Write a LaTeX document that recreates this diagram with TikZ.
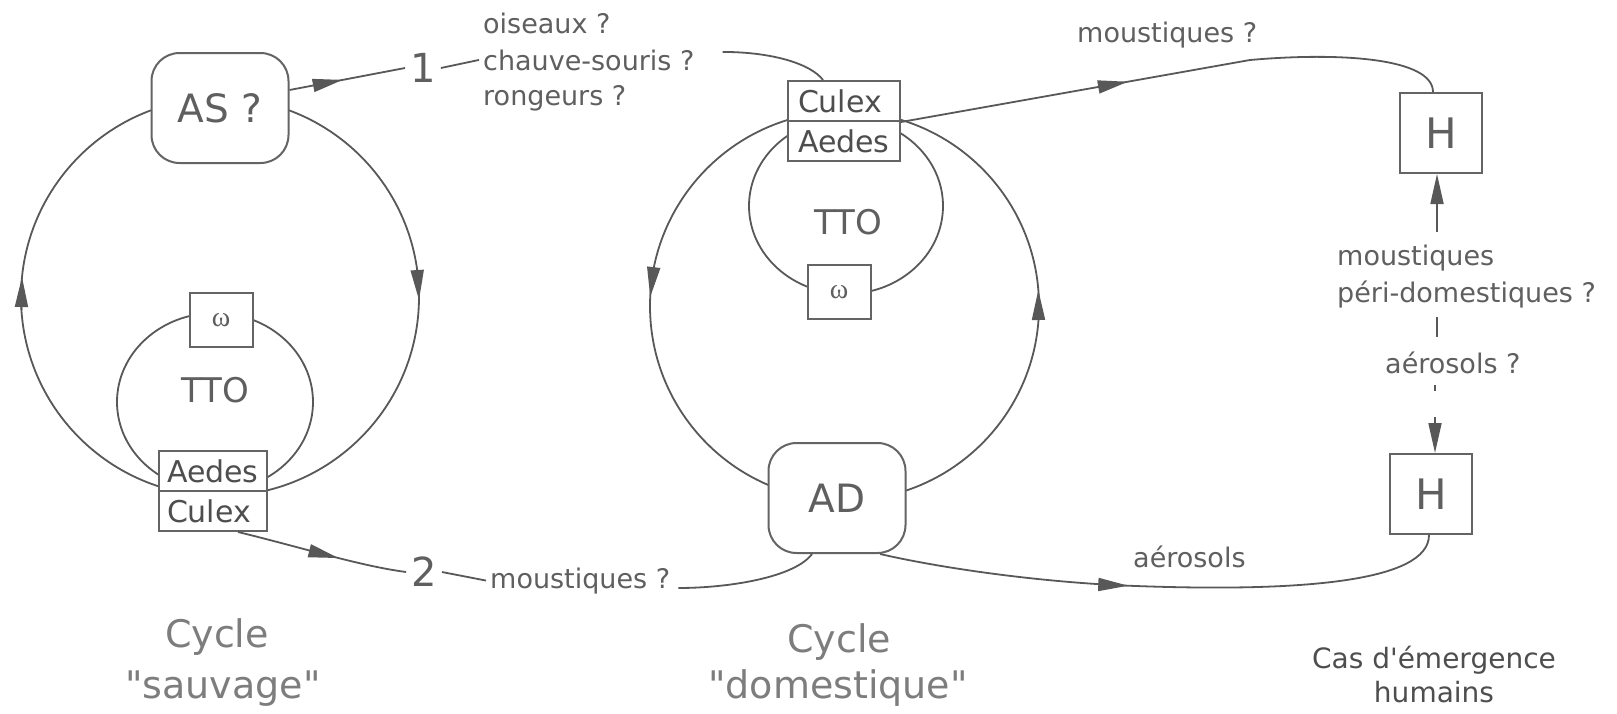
\documentclass[tikz,border=0pt]{standalone}
\usepackage{fontspec}
\newfontfamily\dv{DejaVu Sans}
\newfontfamily\lserif{Liberation Serif}
\usetikzlibrary{arrows.meta,decorations.markings}
\definecolor{linec}{RGB}{88,88,88}
\definecolor{txtc}{RGB}{95,95,95}
\definecolor{boxc}{RGB}{100,100,100}
\definecolor{cyc}{RGB}{125,125,125}
\definecolor{darkt}{RGB}{78,78,78}
\begin{document}
\begin{tikzpicture}[x=1pt,y=-1pt,
  every node/.style={font=\dv, text=txtc},
  conn/.style={color=linec, line width=1.8pt},
  tip/.style={-{Triangle[length=30pt,width=13pt]}},
  midarrow/.style={postaction={decorate,decoration={markings,
      mark=at position #1 with {\arrow{Triangle[length=30pt,width=13pt]}}}}},
  box/.style={draw=boxc, line width=2pt, fill=white, inner sep=0pt},
  rbox/.style={box, rounded corners=28pt, minimum width=137pt, minimum height=110pt,
      font=\dv\fontsize{39}{39}\selectfont},
  hbox/.style={box, minimum width=82pt, minimum height=80pt, font=\dv\fontsize{42}{42}\selectfont},
  wbox/.style={box, minimum width=63pt, minimum height=54pt, font=\lserif\fontsize{28}{28}\selectfont},
  gbox/.style={box, minimum height=40pt, text width=92pt, inner xsep=8pt, align=left,
      font=\dv\fontsize{30}{30}\selectfont, text=darkt},
  tto/.style={font=\dv\fontsize{34}{34}\selectfont},
  lab/.style={font=\dv\fontsize{27}{27}\selectfont, inner sep=4pt},
  dig/.style={font=\dv\fontsize{40}{40}\selectfont, inner sep=5pt},
  cyclab/.style={font=\dv\fontsize{38}{38}\selectfont, text=cyc, inner sep=0pt},
  caslab/.style={font=\dv\fontsize{28}{28}\selectfont, text=darkt, inner sep=0pt}
]
\fill[white] (0,0) rectangle (1617,713);
\useasboundingbox (0,0) rectangle (1617,713);

% circles (drawn first, boxes overlay them)
\coordinate (cL) at (220,297);
\coordinate (eL) at (215,402);
\coordinate (cM) at (844.5,306);
\coordinate (eM) at (846,206);
\draw[conn] (cL) circle [radius=199];
\draw[conn] (eL) ellipse [x radius=98, y radius=89];
\draw[conn] (cM) circle [radius=194.5];
\draw[conn] (eM) ellipse [x radius=97, y radius=88];

% arrowheads on the cycles
\draw[conn, tip] (21.4,310) -- (22,277);
\draw[conn, tip] (417.2,270) -- (419,300);
\draw[conn, tip] (653.4,270) -- (650.2,297);
\draw[conn, tip] (1038.5,320) -- (1038.3,290);

% left cycle
\node[rbox] (AS) at (220,108) {AS ?};
\node[wbox] (omL) at (221,320) {ω};
\node[tto] (ttoL) at (215,390) {TTO};
\node[gbox] (ACa) at (213,471) {Aedes};
\node[gbox] (ACc) at (213,511) {Culex};

% middle cycle
\node[gbox, inner xsep=10pt] (CAc) at (844,101) {Culex};
\node[gbox, inner xsep=10pt] (CAa) at (844,141) {Aedes};
\node[wbox] (omM) at (839,292) {ω};
\node[tto] (ttoM) at (848.5,222) {TTO};
\node[rbox] (AD) at (837,498) {AD};

% human cases
\node[hbox] (Ht) at (1441,133) {H};
\node[hbox] (Hb) at (1431,494) {H};

% labels
\node[dig] (one) at (423,68) {1};
\node[dig] (two) at (424,572) {2};
\node[lab, anchor=base west] (ois) at (479,33) {oiseaux ?};
\node[lab, anchor=base west] (chs) at (479,70) {chauve-souris ?};
\node[lab, anchor=base west] (ron) at (479,105) {rongeurs ?};
\node[lab, anchor=base west] (mq2) at (486,588) {moustiques ?};
\node[lab, anchor=base west] (mq1) at (1073,42) {moustiques ?};
\node[lab, anchor=base west] (mqp) at (1333,265) {moustiques};
\node[lab, anchor=base west] (peri) at (1333,302) {péri-domestiques ?};
\node[lab, anchor=base west] (aerq) at (1381,373) {aérosols ?};
\node[lab, anchor=base west] (aer) at (1129,567) {aérosols};

\node[cyclab, anchor=base] (cyL1) at (217,647) {Cycle};
\node[cyclab, anchor=base] (cyL2) at (223,698) {"sauvage"};
\node[cyclab, anchor=base] (cyM1) at (839,652) {Cycle};
\node[cyclab, anchor=base] (cyM2) at (838,698) {"domestique"};
\node[caslab, anchor=base] (cas1) at (1434,668) {Cas d'émergence};
\node[caslab, anchor=base] (cas2) at (1434,702) {humains};

% connectors: wild cycle -> 1 -> domestic vectors
\draw[conn, midarrow=0.46] ([yshift=18pt]AS.east) -- (one.west);
\draw[conn] (one.east) -- (chs.west);
\draw[conn] ([xshift=24pt,yshift=8pt]chs.east) .. controls +(50,0) and +(-12,-16) .. ([xshift=-21pt]CAc.north);

% wild vectors -> 2 -> AD
\draw[conn, midarrow=0.6] ([xshift=25pt]ACc.south) .. controls (300,547) and (360,566) .. (two.west);
\draw[conn] (two.east) -- (mq2.west);
\draw[conn] ([xshift=-25pt]AD.south) .. controls (795,577) and (730,588) .. ([xshift=4pt]mq2.base east);

% domestic vectors -> H (top)
\coordinate (m1) at (1250,60);
\draw[conn, midarrow=0.65] (CAc.south east) -- (m1);
\draw[conn] (m1) .. controls (1340,52) and (1433,58) .. ([xshift=-8pt]Ht.north);

% AD -> aerosols -> H (bottom)
\coordinate (m2) at (1136,586);
\draw[conn, midarrow=0.97] ([xshift=43pt]AD.south) .. controls (950,570) and (1050,583) .. (m2);
\draw[conn] (m2) .. controls (1300,592) and (1429,582) .. ([xshift=-2pt]Hb.south);

% vertical links between H boxes
\coordinate (v1) at (1437,232);
\coordinate (v2) at (1437,317);
\coordinate (v3) at (1437,337);
\coordinate (v4) at (1435,385);
\coordinate (v5) at (1435,391);
\coordinate (v6) at (1435,417);
\draw[conn, tip] (v1) -- (v1 |- Ht.south);
\draw[conn] (v2) -- (v3);
\draw[conn] (v4) -- (v5);
\draw[conn, tip] (v6) -- (v6 |- Hb.north);
\end{tikzpicture}
\end{document}
